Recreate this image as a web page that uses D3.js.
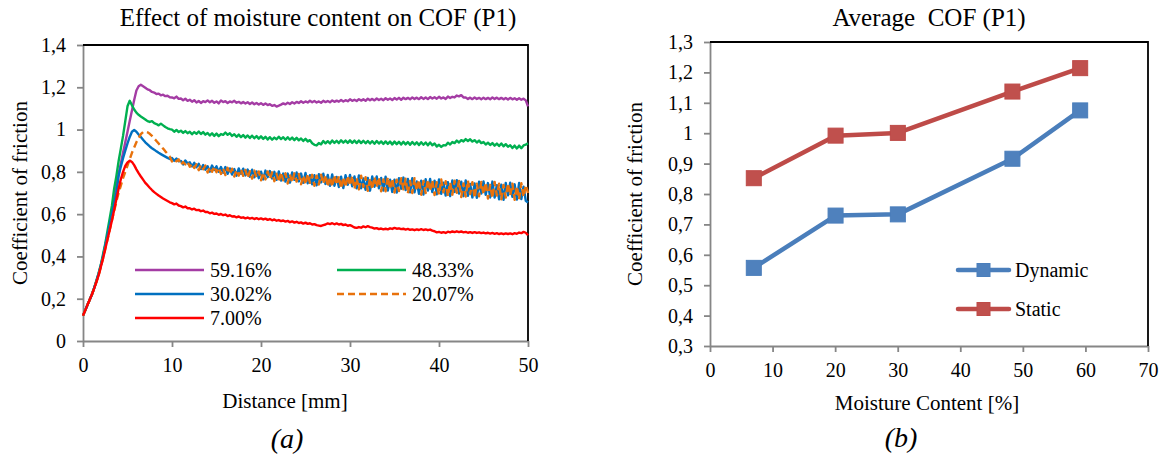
<!DOCTYPE html>
<html><head><meta charset="utf-8">
<script src="https://cdn.jsdelivr.net/npm/d3@7"></script>
<style>
body{margin:0;background:#fff}
svg{display:block}
text{font-family:"Liberation Serif","Times New Roman",serif;fill:#000}
</style>
</head><body>
<svg id="c" width="1164" height="460"></svg>
<script>
// ---------- Panel (a): COF vs distance, one recorded sample every 0.25 mm ----------
const sampleStep = 0.25; // mm between recorded samples
const distanceTicks = [0, 10, 20, 30, 40, 50];
const cofTicksA = [0, 0.2, 0.4, 0.6, 0.8, 1, 1.2, 1.4];

const cof5916 = [
.12,.145,.17,.195, .22,.25,.28,.315, .355,.40,.45,.50, .55,.61,.67,.73, .79,.84,.89,.94,
.99,1.04,1.09,1.14, 1.185,1.205,1.212,1.205, 1.198,1.19,1.186,1.178, 1.175,1.168,1.17,1.162, 1.165,1.158,1.16,1.153,
1.152,1.148,1.156,1.145, 1.147,1.139,1.146,1.136, 1.141,1.132,1.139,1.128, 1.135,1.126,1.134,1.13, 1.138,1.129,1.136,1.127,
1.133,1.124,1.137,1.13, 1.134,1.126,1.133,1.129, 1.136,1.127,1.131,1.124, 1.13,1.123,1.129,1.121, 1.128,1.12,1.126,1.118,
1.125,1.117,1.123,1.116, 1.12,1.112,1.116,1.109, 1.113,1.118,1.124,1.119, 1.127,1.121,1.129,1.123, 1.131,1.126,1.134,1.127,
1.133,1.128,1.136,1.129, 1.135,1.128,1.133,1.127, 1.136,1.13,1.135,1.129, 1.138,1.131,1.137,1.132, 1.14,1.133,1.139,1.134,
1.143,1.136,1.141,1.135, 1.144,1.137,1.143,1.136, 1.146,1.139,1.145,1.138, 1.147,1.14,1.146,1.139, 1.148,1.141,1.147,1.14,
1.149,1.142,1.15,1.141, 1.151,1.144,1.15,1.143, 1.152,1.145,1.151,1.144, 1.153,1.145,1.152,1.144, 1.154,1.147,1.153,1.146,
1.155,1.147,1.152,1.145, 1.156,1.149,1.155,1.152, 1.161,1.157,1.163,1.152, 1.152,1.145,1.151,1.144, 1.152,1.145,1.15,1.143,
1.151,1.144,1.15,1.143, 1.152,1.145,1.151,1.144, 1.15,1.143,1.149,1.142, 1.15,1.143,1.148,1.141, 1.148,1.141,1.146,1.138,
1.11];

const cof4833 = [
.12,.145,.17,.195, .22,.25,.285,.32, .36,.41,.46,.52, .58,.64,.72,.78, .85,.91,.97,1.04,
1.11,1.136,1.115,1.095, 1.08,1.07,1.062,1.055, 1.048,1.04,1.036,1.04, 1.03,1.026,1.02,1.028, 1.02,1.012,1.006,1.002,
1.0,.99,.998,.988, .995,.984,.993,.983, .99,.978,.988,.98, .991,.979,.988,.976, .984,.972,.982,.97,
.981,.969,.979,.975, .986,.975,.983,.97, .978,.966,.976,.964, .974,.962,.972,.96, .971,.959,.969,.957,
.968,.956,.966,.953, .964,.952,.962,.954, .966,.955,.964,.952, .964,.952,.962,.95, .961,.949,.958,.946,
.956,.944,.95,.935, .928,.925,.936,.93, .946,.935,.945,.934, .948,.937,.947,.936, .949,.938,.948,.937,
.949,.937,.948,.936, .948,.936,.947,.935, .946,.934,.945,.933, .946,.934,.944,.932, .944,.932,.943,.93,
.943,.931,.942,.929, .942,.93,.941,.928, .941,.929,.94,.927, .94,.928,.939,.926, .939,.926,.934,.92,
.928,.918,.926,.925, .938,.929,.941,.936, .948,.939,.95,.944, .955,.946,.954,.943, .95,.939,.948,.936,
.941,.929,.938,.927, .936,.924,.934,.922, .934,.921,.931,.919, .926,.913,.924,.911, .924,.912,.925,.929,
.935];

const cof3002 = [
.12,.145,.17,.195, .22,.25,.283,.318, .357,.40,.45,.50, .55,.60,.65,.70, .78,.825,.865,.90,
.935,.965,.99,.998, .99,.977,.965,.952, .94,.93,.92,.912, .905,.897,.89,.884, .878,.872,.866,.861,
.866,.852,.863,.850, .852,.835,.854,.840, .845,.826,.843,.822, .838,.813,.832,.810, .827,.801,.830,.809,
.826,.800,.823,.796, .823,.791,.816,.787, .813,.782,.816,.791, .815,.783,.811,.777, .810,.774,.802,.770,
.801,.764,.806,.775, .804,.769,.800,.762, .802,.759,.792,.754, .792,.749,.797,.762, .797,.755,.792,.748,
.795,.746,.784,.741, .784,.736,.789,.750, .791,.743,.785,.734, .788,.734,.776,.728, .777,.723,.784,.739,
.785,.732,.778,.722, .783,.722,.769,.715, .771,.711,.778,.729, .778,.722,.771,.712, .777,.712,.763,.705,
.763,.702,.770,.720, .773,.714,.766,.703, .770,.703,.755,.696, .758,.693,.765,.712, .766,.705,.758,.694,
.764,.696,.749,.688, .751,.685,.759,.705, .761,.697,.753,.685, .759,.687,.743,.679, .745,.677,.753,.697,
.755,.691,.747,.679, .754,.678,.737,.670, .739,.668,.748,.689, .749,.682,.741,.669, .747,.671,.730,.663,
.655];

const cof2007 = [
.12,.145,.17,.195, .22,.248,.278,.31, .35,.39,.435,.48, .525,.57,.615,.66, .70,.735,.77,.80,
.83,.86,.89,.915, .94,.96,.978,.988, .99,.987,.98,.97, .958,.946,.934,.922, .91,.897,.885,.872,
.849,.860,.850,.859, .833,.847,.835,.848, .824,.839,.818,.836, .808,.833,.812,.830, .797,.823,.800,.826,
.798,.820,.790,.816, .785,.819,.790,.815, .778,.809,.782,.812, .781,.809,.771,.803, .768,.806,.774,.802,
.760,.797,.764,.802, .767,.798,.756,.791, .752,.798,.760,.793, .745,.788,.750,.793, .754,.790,.741,.783,
.740,.791,.748,.786, .734,.782,.740,.787, .744,.786,.729,.777, .729,.786,.738,.780, .721,.775,.727,.782,
.735,.781,.718,.771, .717,.782,.728,.775, .710,.770,.717,.777, .726,.775,.708,.764, .708,.776,.718,.769,
.702,.763,.709,.770, .717,.768,.698,.757, .700,.770,.711,.763, .692,.757,.700,.764, .709,.762,.690,.751,
.692,.764,.703,.756, .684,.750,.692,.758, .701,.757,.681,.745, .683,.759,.695,.751, .676,.744,.684,.752,
.694,.750,.674,.738, .676,.752,.688,.744, .670,.738,.678,.746, .688,.744,.668,.732, .670,.746,.682,.738,
.70];

const cof700 = [
.12,.145,.17,.195, .22,.248,.278,.31, .35,.39,.435,.48, .525,.57,.62,.67, .72,.765,.80,.828,
.845,.853,.847,.832, .812,.794,.778,.763, .748,.737,.725,.714, .704,.696,.688,.681, .674,.668,.662,.656,
.652,.646,.65,.641, .638,.632,.636,.628, .628,.622,.626,.619, .62,.614,.617,.61, .61,.604,.607,.601,
.603,.597,.601,.595, .598,.591,.595,.589, .59,.585,.589,.583, .585,.58,.584,.579, .582,.577,.581,.576,
.58,.575,.579,.573, .577,.571,.575,.569, .572,.567,.57,.565, .568,.562,.566,.56, .564,.558,.561,.555,
.56,.554,.557,.551, .553,.548,.546,.544, .548,.551,.556,.553, .557,.552,.556,.551, .554,.548,.551,.545,
.548,.543,.537,.535, .539,.536,.542,.538, .543,.539,.536,.532, .534,.529,.532,.528, .531,.528,.533,.53,
.535,.531,.533,.529, .531,.527,.53,.526, .528,.524,.528,.525, .529,.525,.528,.524, .527,.522,.519,.514,
.516,.512,.515,.511, .517,.514,.518,.515, .519,.515,.518,.514, .516,.512,.515,.511, .515,.511,.514,.51,
.513,.509,.512,.508, .511,.507,.51,.506, .509,.505,.509,.506, .509,.505,.51,.507, .513,.51,.516,.512,
.50];

const seriesNamesA = ["59.16%", "48.33%", "30.02%", "20.07%", "7.00%"];
const seriesValuesA = [cof5916, cof4833, cof3002, cof2007, cof700];
const seriesColorsA = ["#A43CA4", "#00B050", "#0070C0", "#E8720C", "#FF0000"];
const seriesDashA = [null, null, null, "7,4", null];

// ---------- Panel (b): average COF vs moisture content ----------
const moisture = [7.00, 20.07, 30.02, 48.33, 59.16];
const dynamicCOF = [0.557, 0.729, 0.733, 0.916, 1.075];
const staticCOF = [0.852, 0.992, 1.001, 1.137, 1.214];
const moistureTicks = [0, 10, 20, 30, 40, 50, 60, 70];
const cofTicksB = [0.3, 0.4, 0.5, 0.6, 0.7, 0.8, 0.9, 1, 1.1, 1.2, 1.3];

const fmt = d => String(d).replace(".", ",");
const svg = d3.select("#c");
const AX = "#868686";

function frame(x, y, xt, yt) {
  const [x0, x1] = x.range(), [y1, y0] = y.range();
  const gx = svg.append("g").attr("transform", `translate(0,${y1})`)
    .call(d3.axisBottom(x).tickValues(xt).tickSize(6).tickSizeOuter(0).tickPadding(11).tickFormat(d => d));
  const gy = svg.append("g").attr("transform", `translate(${x0},0)`)
    .call(d3.axisLeft(y).tickValues(yt).tickSize(6).tickSizeOuter(0).tickPadding(11).tickFormat(fmt));
  [gx, gy].forEach(g => {
    g.attr("font-size", 20).attr("font-family", '"Liberation Serif","Times New Roman",serif');
    g.select(".domain").attr("stroke", AX).attr("stroke-width", 1.8);
    g.selectAll(".tick line").attr("stroke", AX).attr("stroke-width", 1.8);
    g.selectAll(".tick text").attr("fill", "#000");
  });
  svg.append("path").attr("d", `M${x0},${y0}H${x1}V${y1}`).attr("fill", "none")
    .attr("stroke", "#000").attr("stroke-width", 1.8);
}

// Panel (a)
const xA = d3.scaleLinear().domain([0, 50]).range([83, 528]);
const yA = d3.scaleLinear().domain([0, 1.4]).range([341, 45]);
frame(xA, yA, distanceTicks, cofTicksA);

const lineA = d3.line().x((d, i) => xA(i * sampleStep)).y(d => yA(d));
seriesValuesA.forEach((vals, k) => {
  svg.append("path").datum(vals).attr("d", lineA).attr("fill", "none")
    .attr("stroke", seriesColorsA[k]).attr("stroke-width", 2.4)
    .attr("stroke-linejoin", "round")
    .attr("stroke-dasharray", seriesDashA[k]);
});

// legend (a)
const legPos = [[135, 270], [337, 270], [135, 294], [337, 294], [135, 318]];
seriesNamesA.forEach((n, k) => {
  const [lx, ly] = legPos[k];
  svg.append("line").attr("x1", lx).attr("x2", lx + 69).attr("y1", ly).attr("y2", ly)
    .attr("stroke", seriesColorsA[k]).attr("stroke-width", 2.6)
    .attr("stroke-dasharray", seriesDashA[k]);
  svg.append("text").attr("x", lx + 75).attr("y", ly + 7).attr("font-size", 20).text(n);
});

svg.append("text").attr("x", 318).attr("y", 26).attr("text-anchor", "middle")
  .attr("font-size", 25).text("Effect of moisture content on COF (P1)");
svg.append("text").attr("x", 285).attr("y", 408).attr("text-anchor", "middle")
  .attr("font-size", 21).text("Distance [mm]");
svg.append("text").attr("transform", "translate(27,193) rotate(-90)").attr("text-anchor", "middle")
  .attr("font-size", 21).text("Coefficient of friction");
svg.append("text").attr("x", 287).attr("y", 448).attr("text-anchor", "middle")
  .attr("font-size", 28).attr("font-style", "italic").text("(a)");

// Panel (b)
const xB = d3.scaleLinear().domain([0, 70]).range([710, 1148]);
const yB = d3.scaleLinear().domain([0.3, 1.3]).range([346, 42]);
frame(xB, yB, moistureTicks, cofTicksB);

const seriesB = [
  {name: "Dynamic", values: dynamicCOF, color: "#4A7EBB", fill: "#4F81BD"},
  {name: "Static", values: staticCOF, color: "#BE4B48", fill: "#C0504D"}
];
const lineB = d3.line().x((d, i) => xB(moisture[i])).y(d => yB(d));
seriesB.forEach(s => {
  svg.append("path").datum(s.values).attr("d", lineB).attr("fill", "none")
    .attr("stroke", s.color).attr("stroke-width", 4.5).attr("stroke-linejoin", "round");
  svg.append("g").selectAll("rect").data(s.values).join("rect")
    .attr("x", (d, i) => xB(moisture[i]) - 7.5).attr("y", d => yB(d) - 7.5)
    .attr("width", 15).attr("height", 15).attr("fill", s.fill).attr("stroke", s.color).attr("stroke-width", 1);
});
// legend (b)
seriesB.forEach((s, k) => {
  const ly = 270 + k * 39;
  svg.append("line").attr("x1", 958).attr("x2", 1009).attr("y1", ly).attr("y2", ly)
    .attr("stroke", s.color).attr("stroke-width", 4.5).attr("stroke-linecap", "round");
  svg.append("rect").attr("x", 977).attr("y", ly - 6.5).attr("width", 13).attr("height", 13)
    .attr("fill", s.fill).attr("stroke", s.color).attr("stroke-width", 1);
  svg.append("text").attr("x", 1015).attr("y", ly + 7).attr("font-size", 20).text(s.name);
});

svg.append("text").attr("x", 929).attr("y", 26).attr("text-anchor", "middle")
  .attr("font-size", 25).style("white-space", "pre").text("Average  COF (P1)");
svg.append("text").attr("x", 927).attr("y", 410).attr("text-anchor", "middle")
  .attr("font-size", 21).text("Moisture Content [%]");
svg.append("text").attr("transform", "translate(642,194) rotate(-90)").attr("text-anchor", "middle")
  .attr("font-size", 21).text("Coefficient of friction");
svg.append("text").attr("x", 901).attr("y", 447).attr("text-anchor", "middle")
  .attr("font-size", 28).attr("font-style", "italic").text("(b)");
</script>
</body></html>
